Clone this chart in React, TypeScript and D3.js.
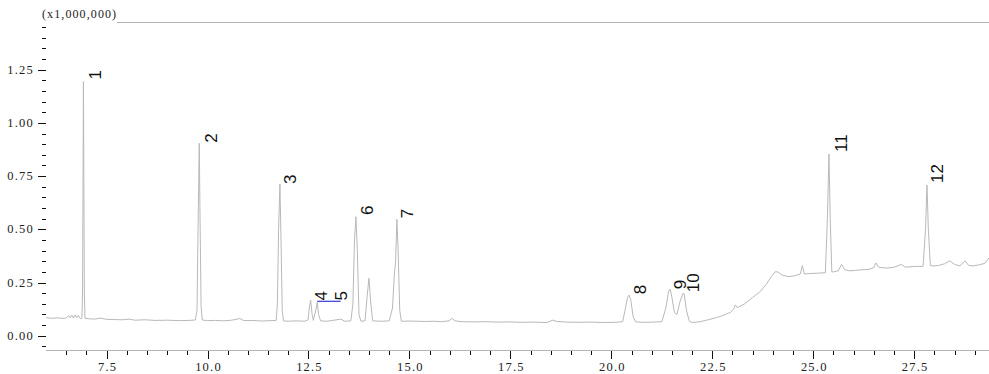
import React, { useEffect, useRef } from 'react';
import * as d3 from 'd3';

// axis ticks
const yMajorTicks = [0, 0.25, 0.5, 0.75, 1.0, 1.25];
const xMajorTicks = [7.5, 10, 12.5, 15, 17.5, 20, 22.5, 25, 27.5];
const yUnitLabel = '(x1,000,000)';

// chromatogram: retention time (min), intensity (x1,000,000)
const trace: [number, number][] = [
  [6.0, 0.085], [6.15, 0.082], [6.3, 0.084], [6.45, 0.081], [6.52, 0.086], [6.56, 0.095],
  [6.6, 0.084], [6.64, 0.097], [6.68, 0.083], [6.72, 0.098], [6.76, 0.085], [6.8, 0.096],
  [6.85, 0.08], [6.89, 0.082],
  [6.905, 0.2], [6.918, 0.75], [6.927, 1.194], [6.937, 0.75], [6.95, 0.2], [6.965, 0.082],
  [7.05, 0.08], [7.2, 0.078], [7.35, 0.083], [7.5, 0.077], [7.7, 0.076], [7.9, 0.075],
  [8.05, 0.078], [8.2, 0.073], [8.45, 0.075], [8.7, 0.072], [9.0, 0.073], [9.3, 0.071],
  [9.55, 0.072], [9.7, 0.074],
  [9.74, 0.12], [9.765, 0.5], [9.795, 0.904], [9.815, 0.55], [9.84, 0.14], [9.87, 0.074],
  [10.0, 0.071], [10.2, 0.072], [10.4, 0.07], [10.6, 0.073], [10.8, 0.081], [10.9, 0.071],
  [11.1, 0.072], [11.35, 0.069], [11.55, 0.071], [11.7, 0.072],
  [11.73, 0.15], [11.76, 0.5], [11.793, 0.713], [11.82, 0.45], [11.85, 0.12], [11.88, 0.07],
  [12.0, 0.068], [12.2, 0.07], [12.4, 0.068], [12.49, 0.075],
  [12.52, 0.13], [12.553, 0.168], [12.59, 0.1], [12.62, 0.072],
  [12.68, 0.12], [12.717, 0.157], [12.75, 0.1], [12.8, 0.07],
  [12.95, 0.068], [13.1, 0.072], [13.3, 0.078], [13.4, 0.068], [13.55, 0.07],
  [13.6, 0.15], [13.64, 0.45], [13.675, 0.559], [13.71, 0.4], [13.75, 0.1], [13.8, 0.068],
  [13.9, 0.07], [13.95, 0.18], [13.997, 0.27], [14.04, 0.16], [14.09, 0.07],
  [14.3, 0.068], [14.5, 0.07],
  [14.58, 0.13], [14.63, 0.3], [14.655, 0.34], [14.69, 0.547], [14.72, 0.4], [14.76, 0.12],
  [14.8, 0.068],
  [15.0, 0.069], [15.2, 0.068], [15.4, 0.067], [15.6, 0.068], [15.8, 0.066], [15.98, 0.07],
  [16.05, 0.082], [16.12, 0.07], [16.3, 0.066], [16.6, 0.065], [16.9, 0.066], [17.2, 0.064],
  [17.5, 0.065], [17.8, 0.063], [18.1, 0.064], [18.4, 0.062], [18.55, 0.073], [18.65, 0.067],
  [18.9, 0.064], [19.2, 0.063], [19.5, 0.064], [19.8, 0.062], [20.1, 0.063], [20.28, 0.066],
  [20.34, 0.12], [20.4, 0.18], [20.436, 0.191], [20.48, 0.17], [20.54, 0.09], [20.6, 0.065],
  [20.8, 0.063], [21.0, 0.064], [21.25, 0.066],
  [21.35, 0.13], [21.42, 0.21], [21.459, 0.219], [21.5, 0.18], [21.56, 0.11], [21.625, 0.1],
  [21.7, 0.16], [21.77, 0.198], [21.8, 0.199], [21.86, 0.12], [21.93, 0.068], [22.0, 0.062],
  [22.2, 0.066], [22.4, 0.075], [22.6, 0.085], [22.8, 0.098], [22.95, 0.11], [23.03, 0.125],
  [23.07, 0.145], [23.12, 0.132], [23.3, 0.15], [23.5, 0.18], [23.7, 0.21], [23.85, 0.245],
  [23.95, 0.275], [24.05, 0.3], [24.12, 0.3], [24.25, 0.283], [24.4, 0.278], [24.55, 0.282],
  [24.68, 0.29], [24.73, 0.33], [24.78, 0.29], [24.9, 0.292], [25.1, 0.294], [25.3, 0.296],
  [25.35, 0.55], [25.389, 0.854], [25.42, 0.55], [25.46, 0.3], [25.5, 0.3], [25.62, 0.305],
  [25.7, 0.335], [25.78, 0.31], [25.9, 0.305], [26.05, 0.307], [26.2, 0.31], [26.38, 0.312],
  [26.5, 0.32], [26.55, 0.342], [26.62, 0.322], [26.8, 0.318], [26.95, 0.32], [27.05, 0.325],
  [27.18, 0.335], [27.28, 0.322], [27.45, 0.325], [27.6, 0.326], [27.72, 0.326],
  [27.78, 0.5], [27.816, 0.708], [27.85, 0.5], [27.9, 0.33], [27.97, 0.328], [28.1, 0.33],
  [28.25, 0.338], [28.38, 0.352], [28.5, 0.335], [28.63, 0.328], [28.76, 0.352], [28.85, 0.33],
  [28.96, 0.328], [29.1, 0.333], [29.25, 0.34], [29.35, 0.365],
];

// peak numbers and where each label sits (time, intensity)
const peakLabels = ['1', '2', '3', '4', '5', '6', '7', '8', '9', '10', '11', '12'];
const labelTimes = [7.36, 10.225, 12.19, 12.95, 13.46, 14.1, 15.094, 20.857, 21.846, 22.176, 25.827, 28.22];
const labelHeights = [1.204, 0.907, 0.713, 0.165, 0.165, 0.567, 0.552, 0.195, 0.218, 0.204, 0.863, 0.718];

// bracket linking peaks 4 and 5
const bracketTimes = [12.717, 13.296];
const bracketHeight = 0.162;

const W = 989;
const H = 374;

const App = () => {
  const svgRef = useRef<SVGSVGElement>(null);

  useEffect(() => {
    const svg = d3.select(svgRef.current);
    svg.selectAll('*').remove();

    const left = 46, right = 989, top = 22, bottom = 350;

    const x = d3.scaleLinear().domain([6.0, 29.352]).range([left, right]);
    const y = d3.scaleLinear().domain([-0.067, 1.474]).range([bottom, top]);

    svg.append('rect').attr('width', W).attr('height', H).attr('fill', '#fff');

    const serif = '"Liberation Serif", "DejaVu Serif", serif';

    // frame lines
    svg.append('line')
      .attr('x1', 117).attr('x2', right).attr('y1', top + 0.5).attr('y2', top + 0.5)
      .attr('stroke', '#b4b4b4');
    svg.append('line')
      .attr('x1', left).attr('x2', right).attr('y1', bottom + 0.5).attr('y2', bottom + 0.5)
      .attr('stroke', '#b4b4b4');

    // y ticks
    const yMinor = d3.range(-1, 30).map(i => i * 0.05);
    svg.append('g').selectAll('line')
      .data(yMinor)
      .enter().append('line')
      .attr('x1', left - 4).attr('x2', left)
      .attr('y1', d => Math.round(y(d)) + 0.5).attr('y2', d => Math.round(y(d)) + 0.5)
      .attr('stroke', '#111');
    svg.append('g').selectAll('line')
      .data(yMajorTicks)
      .enter().append('line')
      .attr('x1', left - 8).attr('x2', left)
      .attr('y1', d => Math.round(y(d)) + 0.5).attr('y2', d => Math.round(y(d)) + 0.5)
      .attr('stroke', '#111');
    svg.append('g').selectAll('text')
      .data(yMajorTicks)
      .enter().append('text')
      .attr('x', 34)
      .attr('y', d => y(d) + 4)
      .attr('text-anchor', 'end')
      .style('font-family', serif)
      .style('font-size', '12.5px')
      .style('letter-spacing', '1.2px')
      .style('fill', '#222')
      .text(d => d3.format('.2f')(d));

    // x ticks
    const xMinor = d3.range(13, 59).map(i => i * 0.5);
    svg.append('g').selectAll('line')
      .data(xMinor)
      .enter().append('line')
      .attr('x1', d => Math.round(x(d)) + 0.5).attr('x2', d => Math.round(x(d)) + 0.5)
      .attr('y1', bottom + 1).attr('y2', bottom + 5)
      .attr('stroke', '#111');
    svg.append('g').selectAll('line')
      .data(xMajorTicks)
      .enter().append('line')
      .attr('x1', d => Math.round(x(d)) + 0.5).attr('x2', d => Math.round(x(d)) + 0.5)
      .attr('y1', bottom + 1).attr('y2', bottom + 9)
      .attr('stroke', '#111');
    svg.append('g').selectAll('text')
      .data(xMajorTicks)
      .enter().append('text')
      .attr('x', d => x(d) + 1)
      .attr('y', 371)
      .attr('text-anchor', 'middle')
      .style('font-family', serif)
      .style('font-size', '12.5px')
      .style('letter-spacing', '1.2px')
      .style('fill', '#222')
      .text(d => d3.format('.1f')(d));

    // unit label
    svg.append('text')
      .attr('x', 42).attr('y', 18)
      .style('font-family', serif)
      .style('font-size', '12px')
      .style('letter-spacing', '1.1px')
      .style('fill', '#222')
      .text(yUnitLabel);

    // trace
    const line = d3.line<[number, number]>()
      .x(d => x(d[0]))
      .y(d => y(d[1]));
    svg.append('path')
      .datum(trace)
      .attr('d', line)
      .attr('fill', 'none')
      .attr('stroke', '#b9b9b9')
      .attr('stroke-width', 1);

    // bracket for 4 / 5
    svg.append('line')
      .attr('x1', x(bracketTimes[0])).attr('x2', x(bracketTimes[1]))
      .attr('y1', y(bracketHeight)).attr('y2', y(bracketHeight))
      .attr('stroke', '#1010d0');

    // peak labels
    svg.append('g').selectAll('text')
      .data(peakLabels)
      .enter().append('text')
      .attr('transform', (d, i) => `translate(${x(labelTimes[i])},${y(labelHeights[i])}) rotate(-90)`)
      .style('font-family', '"Liberation Sans", Arial, sans-serif')
      .style('font-size', '17px')
      .style('fill', '#111')
      .text(d => d);
  }, []);

  return (
    <svg
      ref={svgRef}
      width={W}
      height={H}
      style={{ position: 'absolute', left: 0, top: 0, display: 'block' }}
    />
  );
};

export default App;
